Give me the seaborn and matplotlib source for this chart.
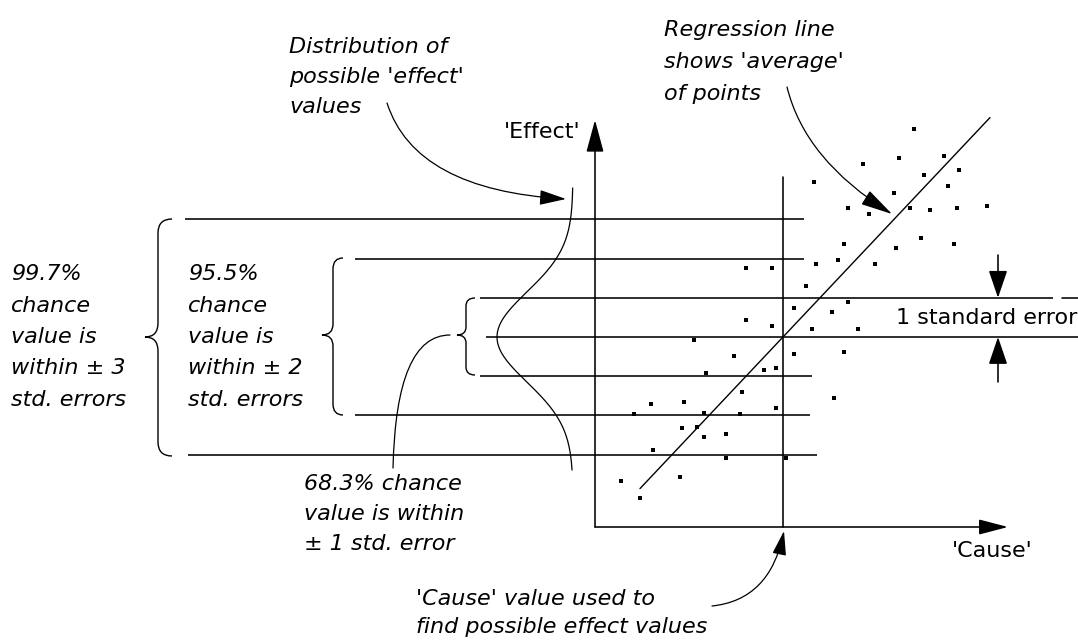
import numpy as np
import pandas as pd
import matplotlib
matplotlib.use("Agg")
import matplotlib.pyplot as plt
import seaborn as sns
from matplotlib.path import Path
from matplotlib.patches import FancyArrowPatch, PathPatch

# ---------------------------------------------------------------------------
# Data (cause / effect units; one unit = 40 px on the canvas)
# ---------------------------------------------------------------------------
cause = [7.98, 7.60, 6.70, 8.73, 8.23, 9.10, 5.48, 8.83, 7.48, 6.33,
         6.85, 7.88, 8.38, 9.05, 9.80, 8.15, 8.98, 7.53, 6.23, 5.53,
         6.08, 7.00, 3.78, 4.43, 5.28, 4.98, 5.93, 6.33, 3.78, 4.43,
         5.43, 6.58, 2.48, 4.98, 6.23, 3.48, 4.23, 4.53, 2.78, 3.68,
         5.98, 1.40, 2.23, 4.53, 0.98, 2.73, 3.63, 2.18, 2.55, 2.73,
         3.28, 1.45, 3.28, 4.78, 0.65, 2.13, 1.13]
effect = [9.95, 9.23, 9.08, 9.28, 8.80, 8.93, 8.63, 8.53, 8.35, 7.98,
          7.83, 7.98, 7.93, 7.98, 8.03, 7.23, 7.08, 6.98, 7.08, 6.58,
          6.68, 6.58, 6.48, 6.48, 6.03, 5.48, 5.38, 5.63, 5.18, 5.03,
          4.95, 4.95, 4.68, 4.33, 4.38, 4.28, 3.93, 3.98, 3.85, 3.38,
          3.23, 3.08, 3.13, 2.98, 2.83, 2.85, 2.83, 2.48, 2.50, 2.25,
          2.33, 1.93, 1.73, 1.73, 1.15, 1.25, 0.73]

reg_slope = 1.06
reg_intercept = -0.232
reg_span = [1.125, 9.875]

cause_value = 4.7
effect_at_cause = 4.75
std_error = 0.98
band_levels = [3, 2, 1, 0, -1, -2, -3]

label_effect = "'Effect'"
label_cause = "'Cause'"
label_se = "1 standard error"
text_three = ["99.7%", "chance", "value is", "within \u00b1 3", "std. errors"]
text_two = ["95.5%", "chance", "value is", "within \u00b1 2", "std. errors"]
text_one = ["68.3% chance", "value is within", "\u00b1 1 std. error"]
text_dist = ["Distribution of", "possible 'effect'", "values"]
text_reg = ["Regression line", "shows 'average'", "of points"]
text_cause = ["'Cause' value used to", "find possible effect values"]

# ---------------------------------------------------------------------------
# Canvas
# ---------------------------------------------------------------------------
sns.set_theme(style="white")
plt.rcParams["font.family"] = ["DejaVu Sans"]

W, H = 1078, 641
PX = 40.0               # pixels per unit
X0, Y0 = 595, 527       # origin of the cause/effect axes on the canvas

fig = plt.figure(figsize=(W / 100, H / 100), dpi=100)
fig.patch.set_facecolor("white")

ax = fig.add_axes([0, 0, 1, 1])
lay = fig.add_axes([0, 0, 1, 1])
lay.set_zorder(2)

INK = "black"
LW = 1.15

# ---------------------------------------------------------------------------
# Scatter and regression line
# ---------------------------------------------------------------------------
pts = pd.DataFrame({"cause": cause, "effect": effect})
sns.scatterplot(data=pts, x="cause", y="effect", ax=ax, marker="s", s=8,
                color=INK, linewidth=0, zorder=4)

reg_x = np.array(reg_span)
reg = pd.DataFrame({"cause": reg_x, "effect": reg_intercept + reg_slope * reg_x})
sns.lineplot(data=reg, x="cause", y="effect", ax=ax, color=INK, lw=1.0)

# standard-error band lines around the predicted effect
band_left = [-10.25, -6.0, -2.875, -2.725, -2.875, -6.0, -10.175]
band_right = [5.225, 5.225, 11.45, 12.2, 5.425, 5.375, 5.55]
for k, xl, xr in zip(band_levels, band_left, band_right):
    yk = effect_at_cause + k * std_error
    ax.plot([xl, xr], [yk, yk], color=INK, lw=LW, solid_capstyle="butt")
y_plus1 = effect_at_cause + std_error
ax.plot([11.675, 12.2], [y_plus1, y_plus1], color=INK, lw=LW)

# vertical line at the chosen cause value
ax.plot([cause_value, cause_value], [0, 8.75], color=INK, lw=LW)

# distribution of possible effect values
g_y = np.linspace(1.425, 8.475, 300)
g_x = -0.55 - 1.9 * np.exp(-0.5 * ((g_y - effect_at_cause) / (1.15 * std_error)) ** 2)
ax.plot(g_x, g_y, color=INK, lw=0.9)


def arrow(a, p, q, hl, hw, lw=LW, transform=None):
    arr = FancyArrowPatch(p, q, arrowstyle=f"-|>,head_length={hl},head_width={hw}",
                          mutation_scale=1, lw=lw, color=INK,
                          shrinkA=0, shrinkB=0, zorder=5,
                          transform=transform if transform is not None else a.transData)
    a.add_patch(arr)


# axes
arrow(ax, (0, 0), (0, (Y0 - 120) / PX), 20, 5.4)
arrow(ax, (0, 0), ((1008 - X0) / PX, 0), 18, 4.7)

# one standard error dimension arrows
se_x = (998 - X0) / PX
arrow(ax, (se_x, (Y0 - 255) / PX), (se_x, y_plus1), 17, 5.8)
arrow(ax, (se_x, (Y0 - 382) / PX), (se_x, effect_at_cause), 17, 5.8)

ax.set_xlim(-X0 / PX, (W - X0) / PX)
ax.set_ylim(-(H - Y0) / PX, Y0 / PX)
ax.axis("off")

# ---------------------------------------------------------------------------
# Annotation layer (canvas pixels, y downwards)
# ---------------------------------------------------------------------------
lay.set_xlim(0, W)
lay.set_ylim(H, 0)
lay.axis("off")


def brace(xs, y0, y1, ym, hook, tip, r):
    verts = [(xs + hook, y0), (xs, y0), (xs, y0 + r), (xs, ym - r),
             (xs, ym), (xs - tip, ym), (xs, ym), (xs, ym + r),
             (xs, y1 - r), (xs, y1), (xs + hook, y1)]
    codes = [Path.MOVETO, Path.CURVE3, Path.CURVE3, Path.LINETO,
             Path.CURVE3, Path.CURVE3, Path.CURVE3, Path.CURVE3,
             Path.LINETO, Path.CURVE3, Path.CURVE3]
    lay.add_patch(PathPatch(Path(verts, codes), fill=False, lw=1.0, color=INK))


brace(158, 219, 456, 337, 14, 13, 14)
brace(333, 258, 415, 335, 10, 11, 11)
brace(466, 298, 375, 335, 9, 9, 8)


def curved_arrow(p0, c, p2, hl, hw, head=True):
    path = Path([p0, c, p2], [Path.MOVETO, Path.CURVE3, Path.CURVE3])
    style = f"-|>,head_length={hl},head_width={hw}" if head else "-"
    lay.add_patch(FancyArrowPatch(path=path, arrowstyle=style, mutation_scale=1,
                                  lw=0.9, color=INK, transform=lay.transData,
                                  zorder=5))


curved_arrow((387, 103), (415, 190), (566, 199), 16.5, 4.7)
curved_arrow((787, 87), (805, 160), (892, 214), 20, 5.0)
curved_arrow((712, 606), (770, 600), (784, 531), 15, 4.3)
curved_arrow((393, 468), (396, 335), (450, 335), 0, 0, head=False)


def block(lines, x, baselines, italic=True):
    for s, yb in zip(lines, baselines):
        lay.text(x, yb, s, fontsize=16, style="italic" if italic else "normal",
                 ha="left", va="baseline", color=INK)


rows5 = [280, 311.5, 343, 374.5, 406]
block(text_three, 11, rows5)
block(text_two, 188, rows5)
block(text_one, 304, [490, 520, 550])
block(text_dist, 289, [53, 83, 113])
block(text_reg, 664, [36, 68, 100])
block(text_cause, 416, [605, 633])
block([label_effect], 504, [138], italic=False)
block([label_cause], 952, [557], italic=False)
block([label_se], 896, [324], italic=False)

fig.savefig("out.png", dpi=100, facecolor="white")
